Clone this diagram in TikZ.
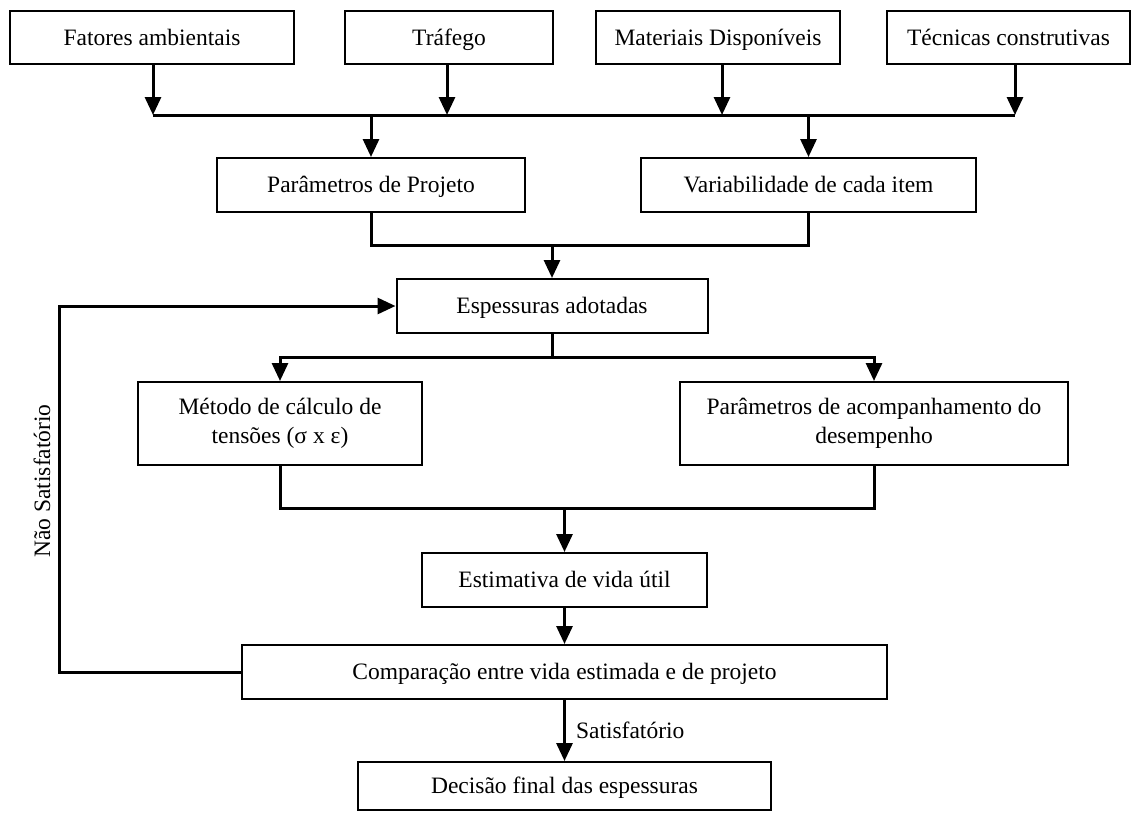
\documentclass[tikz,border=0pt]{standalone}
\usepackage{fontspec}
\setmainfont{Liberation Serif}
\usetikzlibrary{arrows.meta}
\begin{document}
\begin{tikzpicture}[x=1pt,y=-1pt,
  box/.style={draw, line width=2pt, inner sep=0pt, align=center,
    font=\fontsize{23.5}{29}\selectfont},
  sbox/.style={box, text height=18pt, text depth=3pt},
  conn/.style={line width=3pt},
  arr/.style={conn, -{Triangle[width=16pt,length=18pt]}},
  lbl/.style={font=\fontsize{23.5}{29}\selectfont, inner sep=0pt}]
\useasboundingbox (0,0) rectangle (1135,812);
% top row
\node[sbox, minimum width=284pt, minimum height=53pt] (fat) at (152,37.5) {Fatores ambientais};
\node[sbox, minimum width=208pt, minimum height=53pt] (tra) at (449,37.5) {Tráfego};
\node[sbox, minimum width=244pt, minimum height=53pt] (mat) at (718,37.5) {Materiais Disponíveis};
\node[sbox, minimum width=243pt, minimum height=53pt] (tec) at (1008.5,37.5) {Técnicas construtivas};
% second row
\node[sbox, minimum width=308pt, minimum height=54pt] (par) at (371,185) {Parâmetros de Projeto};
\node[sbox, minimum width=335pt, minimum height=54pt] (var) at (808.5,185) {Variabilidade de cada item};
% espessuras
\node[sbox, minimum width=311pt, minimum height=54pt] (esp) at (552,306) {Espessuras adotadas};
% methods
\node[box, minimum width=284pt, minimum height=83pt] (met) at (280,423.5) {Método de cálculo de\\tensões (σ x ε)};
\node[box, minimum width=388pt, minimum height=83pt] (acc) at (874,423.5) {Parâmetros de acompanhamento do\\desempenho};
% lower chain
\node[sbox, minimum width=285pt, minimum height=54pt] (est) at (564.5,580) {Estimativa de vida útil};
\node[sbox, minimum width=645pt, minimum height=54pt] (cmp) at (564.5,672) {Comparação entre vida estimada e de projeto};
\node[sbox, minimum width=413pt, minimum height=48pt] (dec) at (564.5,786) {Decisão final das espessuras};
% junction coordinates
\coordinate (h1) at (153,115);
\coordinate (h2) at (447,115);
\coordinate (h3) at (722,115);
\coordinate (h4) at (1015,115);
\coordinate (m1) at (552,245);
\coordinate (m2) at (552,357);
\coordinate (m3) at (564.5,508);
\coordinate (fb) at (59,0);
% top connectors
\draw[arr] (fat.south -| h1) -- (h1);
\draw[arr] (tra.south -| h2) -- (h2);
\draw[arr] (mat.south -| h3) -- (h3);
\draw[arr] (tec.south -| h4) -- (h4);
\draw[conn] (h1) -- (h4);
\draw[arr] (h1 -| par) -- (par);
\draw[arr] (h1 -| var) -- (var);
% merge to espessuras
\draw[conn] (par.south) -- (par.south |- m1) -- (var.south |- m1) -- (var.south);
\draw[arr] (m1) -- (esp);
% branch
\draw[conn] (esp.south) -- (m2);
\draw[arr] (m2) -| (met);
\draw[arr] (m2) -| (acc);
% merge to estimativa
\draw[conn] (met.south) |- (m3) -| (acc.south);
\draw[arr] (m3) -- (est);
\draw[arr] (est) -- (cmp);
\draw[arr] (cmp) -- node[lbl, midway, right, xshift=10pt] (sat) {Satisfatório} (dec);
% feedback
\draw[arr] (cmp.west) -- (cmp.west -| fb) -- (fb |- esp) -- (esp.west);
\node[lbl, rotate=90] (nsat) at (42,481) {Não Satisfatório};
\end{tikzpicture}
\end{document}
